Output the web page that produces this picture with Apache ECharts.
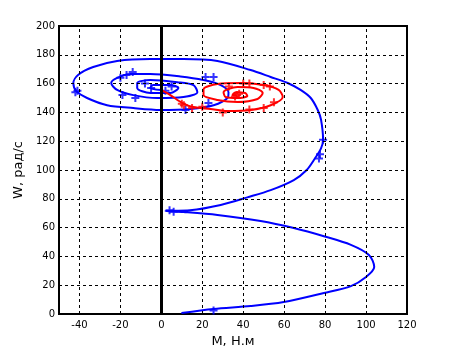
<!DOCTYPE html>
<html>
<head>
<meta charset="utf-8">
<script src="https://cdn.jsdelivr.net/npm/echarts@6/dist/echarts.min.js"></script>
<style>
  html, body { margin: 0; padding: 0; background: #fff; }
  #chart { width: 449px; height: 353px; }
</style>
</head>
<body>
<div id="chart"></div>
<script>
// оси
const xTicks = [-40, -20, 0, 20, 40, 60, 80, 100, 120];
const yTicks = [0, 20, 40, 60, 80, 100, 120, 140, 160, 180, 200];

// синяя траектория (M, W)
const blueM = [9.8, 25.5, 43.6, 59.8, 79.4, 92.6, 100, 104, 101.4, 92.6, 79.4, 64.7, 48.5, 27.4, 10.8, 2,
  14, 29, 42, 53.4, 64.7, 71, 75, 78, 79, 78, 76.4, 73, 68, 61.7, 53.4, 43.6,
  27.4, 10.8, -5.4, -21.6, -33.3, -40.7, -43, -41.6, -36.3, -26.5, -13.7, -0.5, 14.2, 25.5, 32.3, 32.8, 29, 20.6, 9.3,
  -5.4, -15, -21.6, -24.5, -21.6, -13.7, -2, 10.8, 17.6, 15.7, 7.8, -5.4, -11.8, -11.8, -5.4, 4.4, 8.3, 4.4, -4, -5.4, 0];
const blueW = [0.7, 3.5, 5.5, 8.3, 14.6, 19.4, 25.7, 32.6, 41, 48, 54, 59.7, 64.6, 68.8, 70.8, 71.5,
  72, 75.7, 81, 86, 93, 100, 108, 115, 121, 135, 141.7, 150, 155.6, 160.4, 164.6, 169.4,
  175.7, 177, 177, 175.7, 171.5, 166, 160.4, 154.9, 150, 145, 143, 141.7, 142.4, 145, 150, 154, 159, 162.5, 165,
  166.7, 166.7, 164, 160.4, 155.6, 152, 150, 150.7, 154, 159, 161, 162.5, 160.4, 157, 153.5, 153.5, 157, 159, 159, 157, 155.6];

// красная траектория
const redM = [0, 4.4, 10.3, 15.7, 24, 32.3, 43.6, 53.4, 59.3, 57.3, 50, 38.7, 27.4, 20.6, 20.6, 27.4, 37.2, 47,
  49.5, 45, 37.2, 30.4, 31.4, 37.2, 42, 41, 36.3, 34.8, 37];
const redW = [155.6, 152, 146.5, 143.7, 142.4, 141, 141.7, 145, 150.7, 155.6, 159, 160.4, 159.7, 156, 152, 148.6, 147.2, 149.3,
  153.5, 157, 157.6, 154, 150.7, 150, 151.4, 153.5, 154, 152, 151.5];

// маркеры "+"
const blueMarkM = [9.8, 25.5, 4, 6, 79, 77.5, 77, -41, -42, -20, -17, -14, 21.6, 25.5, -19, -12.7, 11.8, 23, -5, 2, 5, -8];
const blueMarkW = [-1, 2.5, 72, 71, 121, 111, 108, 155, 154, 164, 166, 168, 164.6, 164.6, 152, 150, 141.7, 146.5, 157, 155, 158, 160];
const redMarkM = [10, 11, 15, 20, 33, 40, 43, 50, 53, 43, 50, 30, 55, 37, 36, 38];
const redMarkW = [146, 145, 143, 144, 158, 160, 160, 159, 158, 142, 143, 140, 147, 152, 151, 153];

const zip = (a, b) => a.map((v, i) => [v, b[i]]);
const plus = 'path://M5,0L5,10M0,5L10,5';

const chart = echarts.init(document.getElementById('chart'));
const dash = { color: '#000', width: 1, type: [3, 3] };

chart.setOption({
  backgroundColor: '#fff',
  animation: false,
  grid: { left: 59, right: 42, top: 26, bottom: 39, show: true, borderColor: '#000', borderWidth: 2 },
  xAxis: {
    type: 'value', min: -50, max: 120, interval: 10,
    name: 'M, Н.м', nameLocation: 'middle', nameGap: 20,
    nameTextStyle: { fontFamily: 'DejaVu Sans', fontSize: 13, color: '#000' },
    axisLine: { onZero: false, lineStyle: { color: '#000', width: 2 } },
    axisTick: { show: false },
    splitLine: { show: false },
    axisLabel: {
      fontFamily: 'DejaVu Sans', fontSize: 10, color: '#000', margin: 6,
      formatter: v => xTicks.includes(v) ? String(v) : ''
    }
  },
  yAxis: {
    type: 'value', min: 0, max: 200, interval: 20,
    name: 'W, рад/с', nameLocation: 'middle', nameGap: 29,
    nameTextStyle: { fontFamily: 'DejaVu Sans', fontSize: 13, color: '#000' },
    axisLine: { onZero: false, lineStyle: { color: '#000', width: 2 } },
    axisTick: { show: false },
    splitLine: { show: false },
    axisLabel: { fontFamily: 'DejaVu Sans', fontSize: 10, color: '#000', margin: 4 }
  },
  series: [
    {
      // сетка
      type: 'line', data: [], z: 1, silent: true,
      markLine: {
        silent: true, symbol: 'none', label: { show: false }, lineStyle: dash,
        data: xTicks.filter(v => v > -50 && v < 120 && v !== 0).map(v => ({ xAxis: v }))
          .concat(yTicks.filter(v => v > 0 && v < 200).map(v => ({ yAxis: v })))
      }
    },
    {
      type: 'line', data: zip(blueM, blueW), showSymbol: false, smooth: 0.3, z: 3,
      lineStyle: { color: '#0000ff', width: 2 }
    },
    {
      type: 'scatter', data: zip(blueMarkM, blueMarkW), symbol: plus, symbolSize: 8, z: 3,
      itemStyle: { color: 'none', borderColor: '#0000ff', borderWidth: 2 }
    },
    {
      type: 'line', data: zip(redM, redW), showSymbol: false, smooth: 0.3, z: 4,
      lineStyle: { color: '#ff0000', width: 2 }
    },
    {
      type: 'scatter', data: zip(redMarkM, redMarkW), symbol: plus, symbolSize: 8, z: 4,
      itemStyle: { color: 'none', borderColor: '#ff0000', borderWidth: 2 }
    },
    {
      // ось M = 0
      type: 'line', data: [], z: 5, silent: true,
      markLine: {
        silent: true, symbol: 'none', label: { show: false },
        lineStyle: { color: '#000', width: 3, type: 'solid' },
        data: [{ xAxis: 0 }]
      }
    }
  ]
});
</script>
</body>
</html>
